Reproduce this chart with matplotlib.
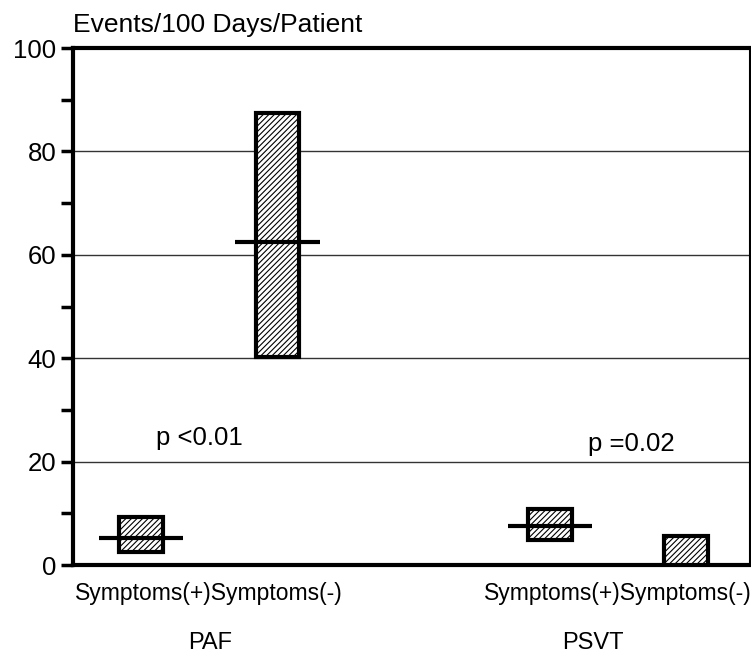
import numpy as np
import matplotlib.pyplot as plt

plt.rcParams['font.family'] = ['Liberation Sans', 'DejaVu Sans']
plt.rcParams['hatch.linewidth'] = 0.8

# event rates per 100 days per patient: range (low..high) and median
groups = ['PAF', 'PSVT']
subgroups = ['Symptoms(+)', 'Symptoms(-)']
positions = [1, 2, 4, 5]
lows = [2.5, 40.2, 4.8, 0.0]
highs = [9.3, 87.4, 10.8, 5.6]
medians = [5.2, 62.5, 7.5, None]
p_labels = ['p <0.01', 'p =0.02']
yticks = [0, 20, 40, 60, 80, 100]

fig = plt.figure(figsize=(7.51, 6.56), dpi=100)
ax = fig.add_axes([0.0972, 0.1387, 0.9015, 0.788])

box_w = 0.32
med_w = 0.62
for x, lo, hi, med in zip(positions, lows, highs, medians):
    ax.bar(x, hi - lo, bottom=lo, width=box_w, color='white',
           edgecolor='black', linewidth=3, hatch='//////', zorder=3)
    if med is not None:
        ax.hlines(med, x - med_w / 2, x + med_w / 2, color='black',
                  linewidth=3, zorder=4)

ax.set_xlim(0.5, 5.47)
ax.set_ylim(0, 100)
ax.set_yticks(yticks)
ax.set_yticks(np.arange(10, 100, 20), minor=True)
ax.tick_params(axis='y', which='both', direction='out', length=9, width=2.5,
               labelsize=18.5, pad=3)
ax.tick_params(axis='x', bottom=False, labelbottom=False)
for y in yticks[1:-1]:
    ax.axhline(y, color='#333333', linewidth=1, zorder=1)

for side in ['left', 'bottom', 'top']:
    ax.spines[side].set_linewidth(3)
ax.spines['right'].set_linewidth(1.5)

ax.text(0, 1.045, 'Events/100 Days/Patient', transform=ax.transAxes,
        fontsize=19, ha='left', va='center')

# group labels below the axis
group_x = [1.51, 4.315]
for i, g in enumerate(groups):
    cx = (positions[2 * i] + positions[2 * i + 1]) / 2
    ax.text(cx, -5.5, subgroups[0] + subgroups[1], fontsize=16.5,
            ha='center', va='center')
    ax.text(group_x[i], -15, g, fontsize=17,
            ha='center', va='center')

ax.text(1.43, 24.5, p_labels[0], fontsize=18.5, ha='center', va='center')
ax.text(4.6, 23.5, p_labels[1], fontsize=18.5, ha='center', va='center')

fig.savefig('out.png', dpi=100)
